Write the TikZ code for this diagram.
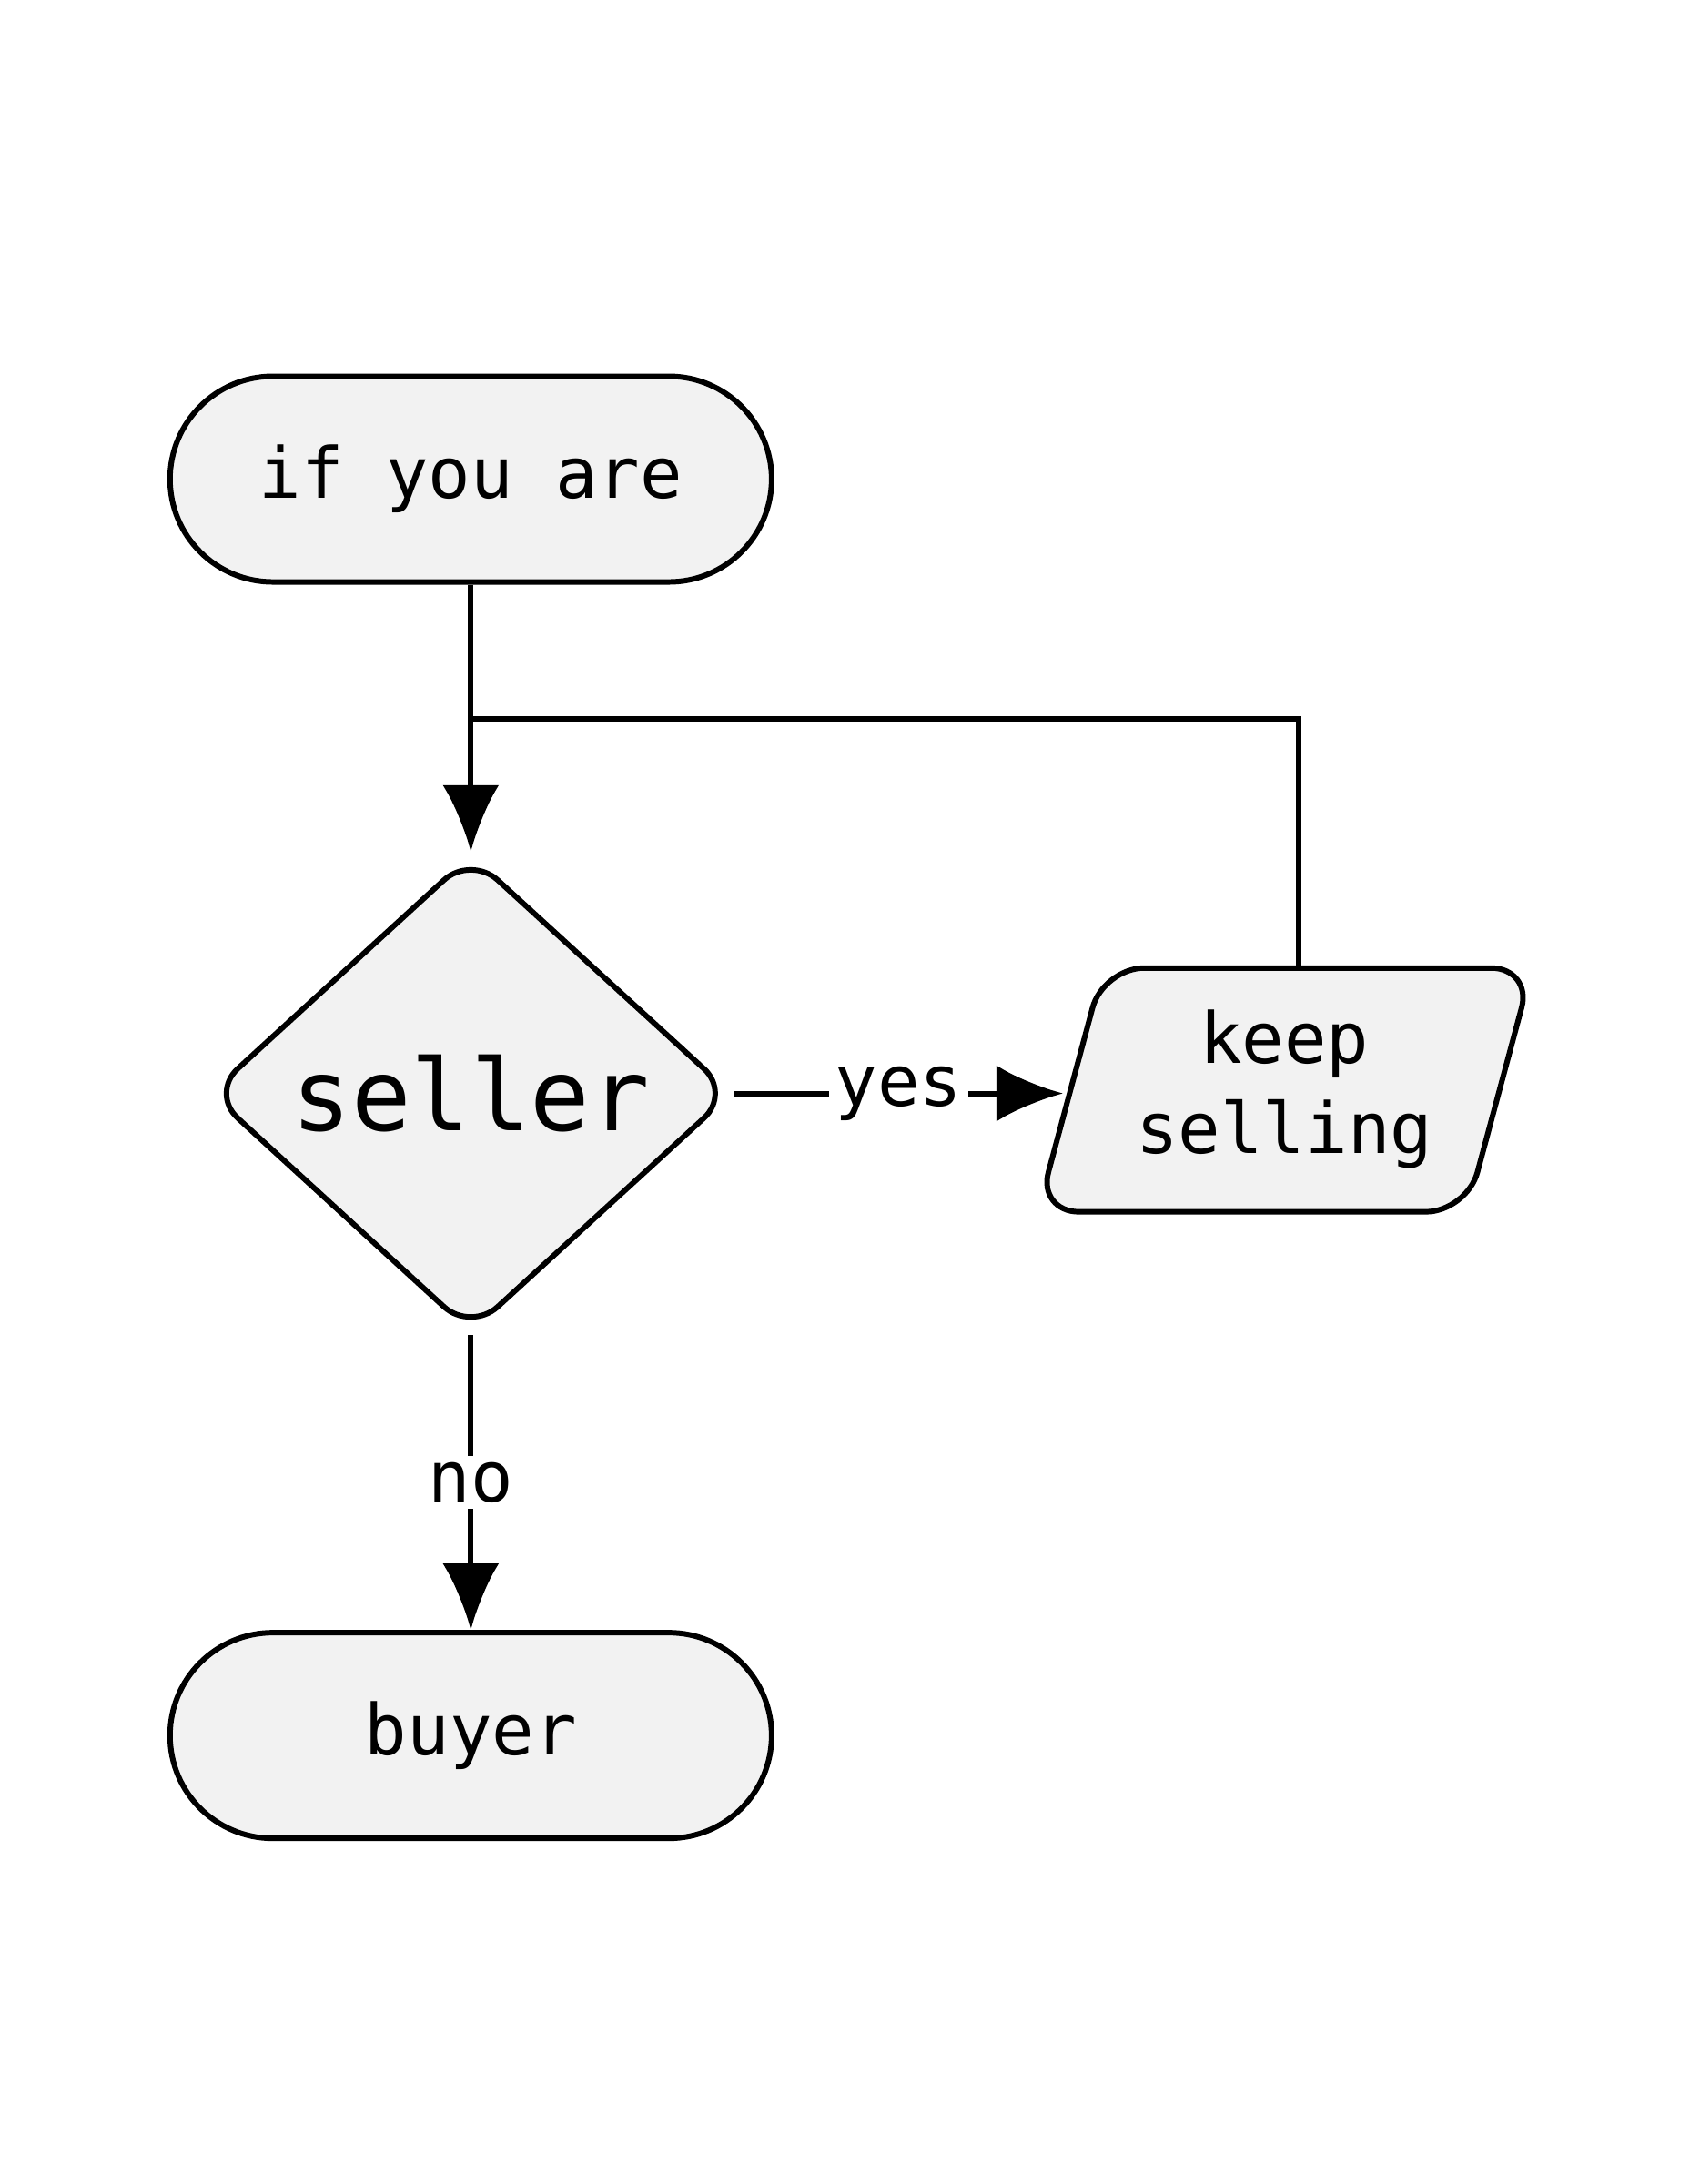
\documentclass[tikz,border=0pt]{standalone}
\usepackage{fontspec}
\setmonofont{DejaVu Sans Mono}
\usetikzlibrary{shapes.geometric,arrows.meta,positioning}
\definecolor{boxfill}{HTML}{F2F2F2}

\begin{document}
\begin{tikzpicture}[
x=0.0153cm,y=-0.0153cm,
line width=1.7pt,
terminal/.style={
  draw,
  fill=boxfill,
  rectangle,
  rounded corners=1.13cm,
  minimum width=6.61cm,
  minimum height=2.26cm,
  font=\ttfamily\fontsize{22}{26}\selectfont
  },
decision/.style={
  draw,
  fill=boxfill,
  diamond,
  rounded corners=0.4cm,
  minimum width=5.74cm,
  minimum height=4.44cm,
  font=\ttfamily\fontsize{31}{36}\selectfont
  },
lbl/.style={
  fill=white,
  inner sep=2pt,
  font=\ttfamily\fontsize{22}{26}\selectfont
  },
>={Latex[length=0.73cm,width=0.62cm]}
]
\useasboundingbox (0,0) rectangle (1220,1568);

\node[terminal] (start) at (338,344) {if you are};
\node[decision] (seller) at (338,785) {seller};
\node[terminal] (buyer) at (338,1246) {buyer};

% parallelogram
\draw[fill=boxfill,rounded corners=0.45cm] (745,870) -- (792,695) -- (1100,695) -- (1053,870) -- cycle;
\node[align=center,font=\ttfamily\fontsize{22}{28}\selectfont] (keep) at (922,782) {keep\\selling};
\coordinate (keepin) at (763,785);
\coordinate (keeptop) at (932,695);
\coordinate (loopr) at (932,516);
\coordinate (loopl) at (338,516);

\draw[->] (start) -- (seller);
\draw (keeptop) -- (loopr) -- (loopl);
\draw[->] (seller.east) -- node[lbl] {yes} (keepin);
\draw[->] (seller) -- node[lbl] {no} (buyer);
\end{tikzpicture}
\end{document}
